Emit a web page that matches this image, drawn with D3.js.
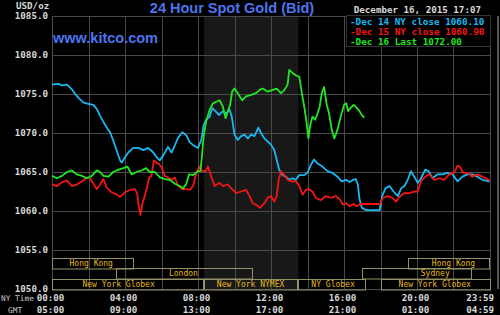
<!DOCTYPE html>
<html>
<head>
<meta charset="utf-8">
<script src="https://cdn.jsdelivr.net/npm/d3@7"></script>
<style>
  html, body { margin: 0; padding: 0; background: #000; }
  svg { display: block; }
  .mono { font-family: "DejaVu Sans Mono", monospace; }
</style>
</head>
<body>
<div class="chart"></div>
<script>
// hours since 00:00 NY time, bid price
const dec14 = [[0.00,1076.2],[0.36,1076.3],[0.55,1076.1],[0.82,1076.2],[1.09,1075.6],[1.27,1075.0],[1.45,1074.5],[1.73,1073.9],[2.04,1073.7],[2.27,1073.6],[2.45,1073.1],[2.64,1072.2],[2.82,1071.4],[3.00,1070.7],[3.18,1070.1],[3.36,1069.0],[3.55,1067.7],[3.73,1066.5],[3.82,1066.2],[4.00,1066.9],[4.18,1067.5],[4.45,1068.1],[4.73,1068.1],[5.00,1067.8],[5.27,1068.1],[5.55,1067.5],[5.73,1066.9],[5.91,1066.5],[6.09,1067.1],[6.36,1068.2],[6.55,1067.5],[6.73,1068.4],[6.91,1069.4],[7.15,1070.1],[7.36,1069.7],[7.55,1068.8],[7.82,1068.3],[8.00,1068.1],[8.18,1069.1],[8.31,1071.0],[8.45,1071.7],[8.64,1072.1],[8.78,1073.2],[8.96,1072.8],[9.15,1072.3],[9.36,1072.8],[9.55,1072.5],[9.73,1073.0],[9.85,1072.1],[10.00,1069.8],[10.18,1069.1],[10.36,1069.6],[10.55,1069.8],[10.73,1069.3],[10.91,1069.8],[11.09,1069.6],[11.31,1070.7],[11.45,1070.0],[11.64,1069.3],[11.82,1068.9],[12.00,1068.5],[12.18,1067.8],[12.31,1066.6],[12.45,1065.3],[12.64,1064.6],[12.82,1064.4],[13.00,1064.0],[13.18,1064.2],[13.36,1064.0],[13.55,1064.6],[13.82,1064.6],[14.00,1064.9],[14.18,1065.9],[14.36,1066.6],[14.55,1066.1],[14.82,1065.7],[15.09,1065.1],[15.36,1064.9],[15.64,1064.4],[15.87,1063.8],[16.13,1064.0],[16.31,1063.7],[16.49,1064.0],[16.64,1064.1],[16.76,1063.4],[16.85,1061.5],[16.98,1060.4],[17.22,1060.1],[17.95,1060.1],[18.09,1061.9],[18.27,1062.9],[18.49,1063.2],[18.71,1062.5],[18.95,1061.9],[19.13,1062.9],[19.31,1063.2],[19.49,1064.0],[19.67,1065.1],[19.85,1064.4],[20.04,1063.6],[20.22,1064.2],[20.45,1065.3],[20.64,1065.1],[20.85,1064.2],[21.13,1064.7],[21.40,1064.7],[21.67,1064.9],[21.95,1064.7],[22.22,1063.8],[22.49,1064.4],[22.76,1064.7],[23.04,1064.7],[23.31,1064.4],[23.58,1064.0],[23.98,1063.8]];

const dec15 = [[0.00,1063.4],[0.27,1063.2],[0.55,1063.7],[0.82,1063.9],[1.09,1063.2],[1.36,1063.4],[1.64,1063.8],[1.91,1064.3],[2.09,1064.2],[2.27,1063.5],[2.45,1062.8],[2.64,1063.4],[2.82,1064.1],[3.00,1063.0],[3.27,1062.4],[3.55,1062.1],[3.73,1061.8],[4.00,1062.4],[4.27,1062.7],[4.55,1062.8],[4.67,1062.2],[4.76,1060.5],[4.85,1059.5],[4.95,1060.9],[5.09,1062.0],[5.22,1063.2],[5.33,1064.3],[5.45,1064.5],[5.58,1066.5],[5.73,1066.2],[5.87,1066.0],[6.00,1065.6],[6.18,1064.5],[6.36,1064.3],[6.55,1064.0],[6.73,1064.3],[6.91,1063.2],[7.15,1062.8],[7.36,1062.8],[7.55,1062.7],[7.73,1063.2],[7.91,1064.9],[8.09,1065.7],[8.24,1065.1],[8.42,1065.1],[8.55,1065.7],[8.73,1064.4],[8.91,1063.2],[9.18,1063.6],[9.36,1063.2],[9.64,1063.4],[9.82,1062.9],[10.09,1062.3],[10.36,1062.5],[10.64,1062.7],[10.82,1061.9],[11.00,1061.0],[11.18,1060.8],[11.40,1060.4],[11.64,1061.0],[11.82,1061.7],[12.00,1061.9],[12.18,1061.2],[12.31,1061.9],[12.42,1064.0],[12.55,1065.1],[12.73,1064.6],[12.91,1064.0],[13.09,1063.8],[13.36,1063.8],[13.55,1063.2],[13.73,1062.1],[13.91,1062.7],[14.09,1062.8],[14.27,1062.5],[14.45,1061.7],[14.73,1061.4],[15.00,1061.9],[15.27,1061.7],[15.55,1061.9],[15.76,1061.5],[15.95,1060.8],[16.13,1061.0],[16.31,1060.6],[16.53,1060.9],[16.71,1060.6],[16.89,1060.9],[17.98,1060.9],[18.13,1061.7],[18.40,1061.9],[18.64,1061.7],[18.85,1061.2],[19.07,1061.9],[19.31,1062.3],[19.58,1062.3],[19.85,1062.5],[20.04,1062.5],[20.22,1063.8],[20.45,1064.4],[20.67,1064.7],[20.95,1064.0],[21.22,1064.2],[21.49,1064.0],[21.76,1064.7],[22.04,1064.9],[22.22,1065.8],[22.35,1065.7],[22.53,1064.9],[22.76,1064.9],[23.04,1064.4],[23.31,1064.7],[23.58,1064.4],[23.85,1064.1],[23.98,1063.9]];

const dec16 = [[0.00,1064.5],[0.27,1064.2],[0.55,1064.5],[0.82,1065.0],[1.09,1065.2],[1.36,1064.7],[1.64,1064.5],[1.91,1064.2],[2.18,1064.5],[2.45,1065.2],[2.64,1065.0],[2.82,1064.5],[3.09,1064.4],[3.36,1065.0],[3.64,1065.3],[3.91,1065.5],[4.13,1065.7],[4.36,1064.7],[4.64,1065.0],[4.91,1065.2],[5.15,1065.5],[5.36,1065.0],[5.64,1065.0],[5.91,1064.3],[6.18,1064.1],[6.45,1064.0],[6.73,1063.5],[7.00,1063.2],[7.18,1062.9],[7.36,1063.5],[7.51,1064.7],[7.73,1064.6],[8.00,1065.1],[8.13,1065.1],[8.20,1066.6],[8.31,1069.6],[8.45,1071.5],[8.64,1073.0],[8.82,1073.8],[9.00,1074.0],[9.18,1074.2],[9.36,1073.4],[9.51,1071.9],[9.64,1072.8],[9.76,1073.6],[9.87,1075.3],[10.00,1075.7],[10.18,1075.1],[10.42,1074.2],[10.64,1074.7],[10.91,1074.9],[11.18,1075.1],[11.36,1075.5],[11.55,1075.7],[11.82,1075.3],[12.05,1075.5],[12.31,1075.7],[12.55,1075.1],[12.73,1075.5],[12.91,1076.2],[13.00,1078.1],[13.18,1077.7],[13.36,1077.4],[13.55,1077.2],[13.69,1075.1],[13.82,1073.4],[13.95,1071.3],[14.05,1069.3],[14.15,1071.0],[14.27,1072.1],[14.42,1071.7],[14.55,1072.5],[14.67,1073.4],[14.78,1075.1],[14.91,1075.9],[15.04,1073.8],[15.18,1072.5],[15.33,1070.4],[15.47,1069.3],[15.64,1070.4],[15.82,1072.1],[16.00,1073.6],[16.13,1073.8],[16.22,1072.8],[16.35,1073.2],[16.53,1073.6],[16.71,1073.2],[16.85,1072.8],[17.00,1072.2],[17.12,1072.0]];

const seriesNames = ['Dec 14 NY close', 'Dec 15 NY close', 'Dec 16 Last'];
const seriesLast = [1060.10, 1060.90, 1072.00];
const seriesColors = ['#1ab8f0', '#f41414', '#22e622'];

const priceTicks = [1050, 1055, 1060, 1065, 1070, 1075, 1080, 1085];
const labelHours = [0, 4, 8, 12, 16, 20, 24];
const nyLabels = ['00:00', '04:00', '08:00', '12:00', '16:00', '20:00', '23:59'];
const gmtLabels = ['05:00', '09:00', '13:00', '17:00', '21:00', '01:00', '04:59'];

// trading sessions: row 0 = top band, row 2 = bottom band
const sessions = [
  { name: 'Hong Kong', row: 0, start: 0, end: 4.5, label: 2.15 },
  { name: 'Hong Kong', row: 0, start: 19.5, end: 24, label: 22.0 },
  { name: 'London', row: 1, start: 3.5, end: 11.0, label: 7.2 },
  { name: 'Sydney', row: 1, start: 17.0, end: 23.0, label: 21.0 },
  { name: 'New York Globex', row: 2, start: 0, end: 8.33, label: 3.65 },
  { name: 'New York NYMEX', row: 2, start: 8.33, end: 13.5, label: 10.88 },
  { name: 'NY Globex', row: 2, start: 13.5, end: 17.25, label: 15.4 },
  { name: 'New York Globex', row: 2, start: 18.0, end: 24, label: 20.97 }
];
const comexHours = [8.33, 13.5];

const width = 500, height = 315;
const margin = { top: 16, right: 10, bottom: 26, left: 52 };

const svg = d3.select('.chart').append('svg')
  .attr('width', width).attr('height', height);

svg.append('rect').attr('width', width).attr('height', height).attr('fill', '#000');

const x = d3.scaleLinear().domain([0, 24]).range([margin.left, width - margin.right]);
const y = d3.scaleLinear().domain([1050, 1085]).range([height - margin.bottom, margin.top]);

// shaded COMEX floor hours
svg.append('rect')
  .attr('x', x(comexHours[0])).attr('y', y(1085))
  .attr('width', x(comexHours[1]) - x(comexHours[0]))
  .attr('height', y(1050) - y(1085))
  .attr('fill', '#181818');

// grid
svg.append('g').selectAll('line').data(priceTicks).enter().append('line')
  .attr('x1', x(0)).attr('x2', x(24))
  .attr('y1', d => Math.round(y(d)) + 0.5).attr('y2', d => Math.round(y(d)) + 0.5)
  .attr('stroke', '#4a4a4a').attr('stroke-width', 1);

svg.append('g').selectAll('line').data(d3.range(0, 25, 2)).enter().append('line')
  .attr('x1', d => Math.round(x(d)) + 0.5).attr('x2', d => Math.round(x(d)) + 0.5)
  .attr('y1', y(1085)).attr('y2', y(1050))
  .attr('stroke', '#4a4a4a').attr('stroke-width', 1);

svg.append('line')
  .attr('x1', 498).attr('x2', 498).attr('y1', y(1085)).attr('y2', y(1050))
  .attr('stroke', '#555').attr('stroke-width', 2);

// session bands
const rowH = 10.5;
const sess = svg.append('g').selectAll('g').data(sessions).enter().append('g');
sess.append('rect')
  .attr('x', d => Math.round(x(d.start)) + 0.5)
  .attr('y', d => Math.round(y(1050) - (3 - d.row) * rowH) + 0.5)
  .attr('width', d => Math.round(x(d.end) - x(d.start)) - 1)
  .attr('height', rowH)
  .attr('fill', 'none').attr('stroke', '#959167').attr('stroke-width', 1);
sess.append('text')
  .attr('class', 'mono')
  .attr('x', d => x(d.label))
  .attr('y', d => y(1050) - (3 - d.row) * rowH + rowH / 2 + 3)
  .attr('text-anchor', 'middle')
  .attr('font-size', '8px')
  .attr('fill', '#e6b81c')
  .text(d => d.name);

// price lines
const line = d3.line().x(d => x(d[0])).y(d => y(d[1]));
[dec14, dec15, dec16].forEach((s, i) => {
  svg.append('path').datum(s)
    .attr('d', line)
    .attr('fill', 'none')
    .attr('stroke', seriesColors[i])
    .attr('stroke-width', 1.8)
    .attr('stroke-linejoin', 'round');
});

// y axis labels
svg.append('g').selectAll('text').data(priceTicks).enter().append('text')
  .attr('class', 'mono')
  .attr('x', 48).attr('y', d => y(d)).attr('dy', '0.36em')
  .attr('text-anchor', 'end')
  .attr('font-size', '9.2px').attr('font-weight', 'bold')
  .attr('fill', '#d8d8d8')
  .text(d => d3.format('.1f')(d));

svg.append('text').attr('class', 'mono')
  .attr('x', 16).attr('y', 8.5)
  .attr('font-size', '9.2px').attr('font-weight', 'bold').attr('fill', '#d8d8d8')
  .text('USD/oz');

// x axis labels
function timeRow(labels, yy) {
  svg.append('g').selectAll('text').data(labels).enter().append('text')
    .attr('class', 'mono')
    .attr('x', (d, i) => i === labels.length - 1 ? 494 : x(labelHours[i]) - 1.5)
    .attr('y', yy)
    .attr('text-anchor', (d, i) => i === labels.length - 1 ? 'end' : 'middle')
    .attr('font-size', '9.2px').attr('font-weight', 'bold')
    .attr('fill', '#d8d8d8')
    .text(d => d);
}
timeRow(nyLabels, 301);
timeRow(gmtLabels, 312.5);

svg.append('text').attr('class', 'mono')
  .attr('x', 1).attr('y', 301)
  .attr('font-size', '7.8px').attr('fill', '#c8c8c8')
  .text('NY Time');
svg.append('text').attr('class', 'mono')
  .attr('x', 8).attr('y', 312.5)
  .attr('font-size', '7.8px').attr('fill', '#c8c8c8')
  .text('GMT');

// titles
svg.append('text')
  .attr('x', 232).attr('y', 13)
  .attr('text-anchor', 'middle')
  .attr('font-family', '"Liberation Sans", Arial, sans-serif')
  .attr('font-size', '14.5px').attr('font-weight', 'bold')
  .attr('fill', '#4d74ee')
  .text('24 Hour Spot Gold (Bid)');

svg.append('text')
  .attr('x', 53).attr('y', 43)
  .attr('font-family', '"Liberation Sans", Arial, sans-serif')
  .attr('font-size', '14.5px').attr('font-weight', 'bold')
  .attr('fill', '#4d74ee')
  .text('www.kitco.com');

svg.append('text').attr('class', 'mono')
  .attr('x', 481).attr('y', 12.5)
  .attr('text-anchor', 'end')
  .attr('font-size', '9.2px').attr('font-weight', 'bold').attr('fill', '#d8d8d8')
  .text('December 16, 2015 17:07');

// legend
svg.append('rect')
  .attr('x', 346.5).attr('y', 15.5).attr('width', 144).attr('height', 31)
  .attr('fill', '#000').attr('stroke', '#333');

svg.append('g').selectAll('text').data(seriesNames).enter().append('text')
  .attr('class', 'mono')
  .attr('x', 350).attr('y', (d, i) => 25 + i * 9.8)
  .attr('font-size', '9.3px').attr('font-weight', 'bold')
  .attr('fill', (d, i) => seriesColors[i])
  .text((d, i) => '-' + d + ' ' + d3.format('.2f')(seriesLast[i]));
</script>
</body>
</html>
